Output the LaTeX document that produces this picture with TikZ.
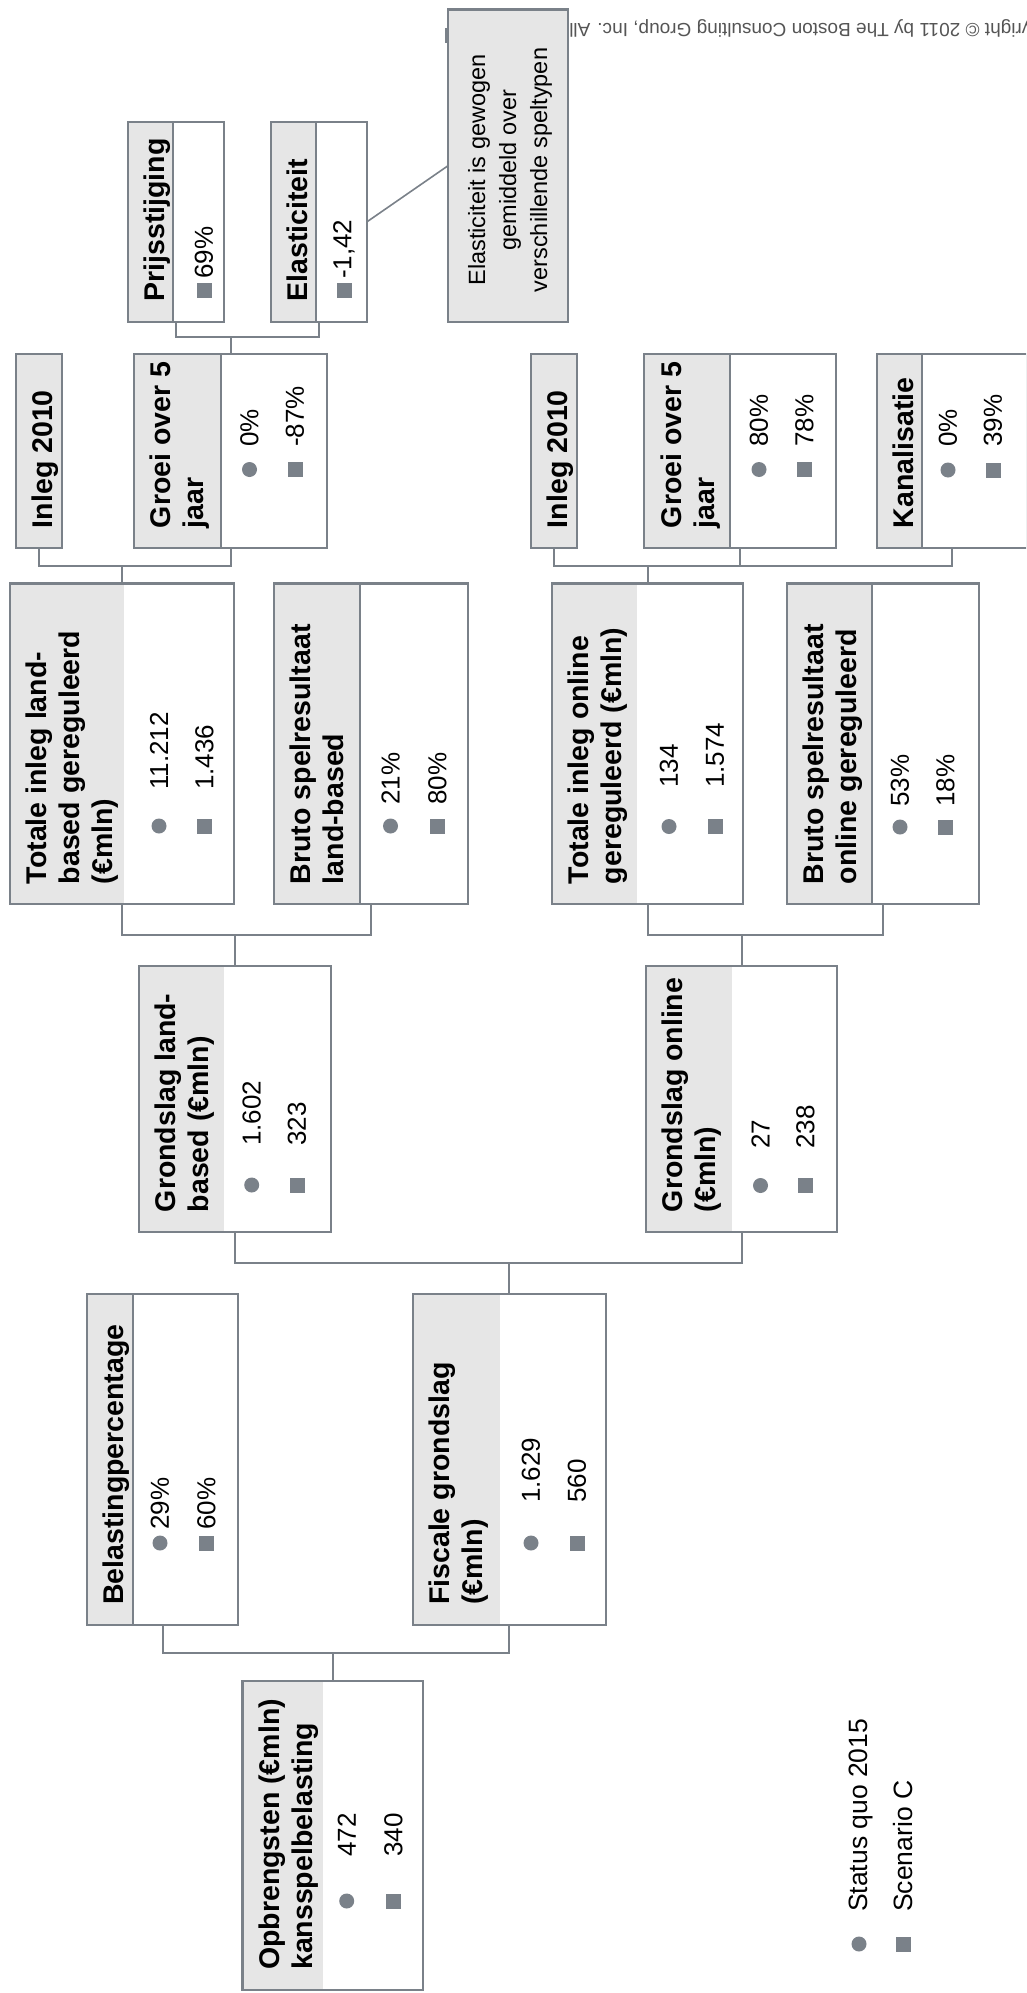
\documentclass[tikz,border=0pt]{standalone}
\usepackage{fontspec}
\setmainfont{Liberation Sans}
\definecolor{bord}{HTML}{7A8189}
\definecolor{hdrgray}{HTML}{E6E6E6}
\definecolor{bulc}{HTML}{7A8189}
\definecolor{copyc}{HTML}{555555}
\newcommand\mybox[7]{%
  \fill[hdrgray] (#2,#3) rectangle (#6,#5);
  \node[bx, minimum width={#4-#2}, minimum height={#5-#3}] (#1) at ({(#2+#4)/2},{(#3+#5)/2}) {};
  \ifnum#7=1 \draw[ln] (#6,#3) -- (#6,#5);\fi
}
\newcommand\myhdr[4]{\node[hdr] (#1-h) at ({#2+16},{#3-20}) {#4};}
\newcommand\myvals[7]{%
  \fill[bul] (#2,#4) circle (7.5pt);
  \fill[bul] ({#3-7.5},{#4-7.5}) rectangle ({#3+7.5},{#4+7.5});
  \node[val] (#1-v1) at (#2,#5) {#6};
  \node[val] (#1-v2) at (#3,#5) {#7};
}
\begin{document}
\begin{tikzpicture}[x=1pt,y=-1pt,
  bx/.style={draw=bord, line width=2.2pt, rectangle, inner sep=0pt, outer sep=0pt},
  ln/.style={draw=bord, line width=2pt},
  hdr/.style={rotate=90, anchor=north west, align=left, inner sep=0pt, font=\bfseries\fontsize{28.5}{33}\selectfont},
  val/.style={rotate=90, anchor=west, inner sep=0pt, font=\fontsize{26}{30}\selectfont},
  bul/.style={fill=bulc}]
\useasboundingbox (0,0) rectangle (1026,1993);
\clip (0,0) rectangle (1026,1993);
\fill[white] (0,0) rectangle (1026,1993);

% boxes
\mybox{prijs}{127.7}{122.3}{224.3}{321.7}{173.3}{1}
\mybox{elast}{270.7}{122.3}{366.7}{321.7}{316}{1}
\mybox{callout}{448}{9.5}{567.7}{322}{567.7}{0}
\mybox{inlegL}{15.7}{354}{62.3}{548.3}{62.3}{0}
\mybox{groeiL}{134}{354}{327}{548.3}{221}{1}
\mybox{totL}{10}{583.5}{234}{904.3}{124}{0}
\mybox{brutoL}{274}{583.5}{468}{904.3}{360}{1}
\mybox{grondL}{139}{966}{331}{1232.3}{224}{0}
\mybox{inlegO}{530.7}{354}{576.7}{548.3}{576.7}{0}
\mybox{groeiO}{644.3}{354}{835.7}{548.3}{730}{1}
\mybox{kanal}{876.7}{354}{1027.3}{548.3}{922}{1}
\mybox{totO}{552}{583.5}{743}{904.3}{636.7}{0}
\mybox{brutoO}{786.7}{583.5}{979}{904.3}{872.3}{1}
\mybox{grondO}{645.7}{966}{837.3}{1232.3}{731.7}{0}
\mybox{belast}{87}{1294}{238}{1625}{133}{1}
\mybox{fiscal}{412.7}{1294}{606}{1625}{500}{0}
\mybox{opbr}{242.5}{1681}{423}{1990}{323}{0}
\fill[bord] (444.5,28) rectangle (448,43);

% connectors
\coordinate (j1) at (groeiL.north |- 0,337);
\draw[ln] (prijs.south) |- (j1) -| (elast.south);
\draw[ln] (j1) -- (groeiL.north);
\coordinate (j2) at (totL.north |- 0,565.7);
\draw[ln] (inlegL.south) |- (j2) -| (groeiL.south);
\draw[ln] (j2) -- (totL.north);
\coordinate (j3) at (grondL.north |- 0,935);
\draw[ln] (totL.south) |- (j3) -| (brutoL.south);
\draw[ln] (j3) -- (grondL.north);
\coordinate (j4) at (totO.north |- 0,565.7);
\draw[ln] (inlegO.south) |- (j4) -| (kanal.south);
\draw[ln] (groeiO.south) -- (groeiO.south |- j4);
\draw[ln] (j4) -- (totO.north);
\coordinate (j5) at (grondO.north |- 0,935);
\draw[ln] (totO.south) |- (j5) -| (brutoO.south);
\draw[ln] (j5) -- (grondO.north);
\coordinate (j6) at (fiscal.north |- 0,1263.3);
\draw[ln] (grondL.south) |- (j6) -| (grondO.south);
\draw[ln] (j6) -- (fiscal.north);
\coordinate (j7) at (opbr.north |- 0,1653);
\draw[ln] (belast.south) |- (j7) -| (fiscal.south);
\draw[ln] (j7) -- (opbr.north);
\draw[ln, line width=1.6pt] (elast.east) -- (callout.west);

% headers
\myhdr{prijs}{127.7}{321.7}{Prijsstijging}
\myhdr{elast}{270.7}{321.7}{Elasticiteit}
\myhdr{inlegL}{15.7}{548.3}{Inleg 2010}
\myhdr{groeiL}{134}{548.3}{Groei over 5\\jaar}
\myhdr{totL}{10}{904.3}{Totale inleg land-\\based gereguleerd\\(€mln)}
\myhdr{brutoL}{274}{904.3}{Bruto spelresultaat\\land-based}
\myhdr{grondL}{139}{1232.3}{Grondslag land-\\based (€mln)}
\myhdr{inlegO}{530.7}{548.3}{Inleg 2010}
\myhdr{groeiO}{644.3}{548.3}{Groei over 5\\jaar}
\myhdr{kanal}{876.7}{548.3}{Kanalisatie}
\myhdr{totO}{552}{904.3}{Totale inleg online\\gereguleerd (€mln)}
\myhdr{brutoO}{786.7}{904.3}{Bruto spelresultaat\\online gereguleerd}
\myhdr{grondO}{645.7}{1232.3}{Grondslag online\\(€mln)}
\myhdr{belast}{87}{1625}{Belastingpercentage}
\myhdr{fiscal}{412.7}{1625}{Fiscale grondslag\\(€mln)}
\myhdr{opbr}{242.5}{1990}{Opbrengsten (€mln)\\kansspelbelasting}

% values
\fill[bul] ({204-7.5},{290-7.5}) rectangle ({204+7.5},{290+7.5});
\node[val] (prijs-v) at (204,279) {69\%};
\fill[bul] ({344-7.5},{290-7.5}) rectangle ({344+7.5},{290+7.5});
\node[val] (elast-v) at (344,279) {-1,42};
\myvals{groeiL}{249.5}{295}{469.5}{447}{0\%}{-87\%}
\myvals{totL}{159}{204.5}{826}{790}{11.212}{1.436}
\myvals{brutoL}{390.5}{437.5}{826}{805}{21\%}{80\%}
\myvals{grondL}{251.7}{297}{1185}{1146}{1.602}{323}
\myvals{groeiO}{759}{804.5}{469.5}{447}{80\%}{78\%}
\myvals{kanal}{948}{993}{470}{447}{0\%}{39\%}
\myvals{totO}{669}{715}{826.5}{788}{134}{1.574}
\myvals{brutoO}{900}{945.5}{827}{807}{53\%}{18\%}
\myvals{grondO}{760.5}{805.5}{1185.5}{1149}{27}{238}
\myvals{belast}{160}{206.5}{1543}{1530}{29\%}{60\%}
\myvals{fiscal}{531}{577}{1543}{1503}{1.629}{560}
\myvals{opbr}{346.7}{393.5}{1901}{1857}{472}{340}

% callout text
\node[rotate=90, anchor=north, align=center, inner sep=0pt, font=\fontsize{23.5}{31}\selectfont] (callout-t) at (468,170) {Elasticiteit is gewogen\\gemiddeld over\\verschillende speltypen};

% legend
\fill[bul] (859,1944) circle (7.5pt);
\node[val, font=\fontsize{26.5}{30}\selectfont] (leg1) at (861,1912) {Status quo 2015};
\fill[bul] ({903-7.5},{1944-7.5}) rectangle ({903+7.5},{1944+7.5});
\node[val, font=\fontsize{26.5}{30}\selectfont] (leg2) at (903,1912) {Scenario C};

% copyright (upside down, cut at edge)
\node[rotate=180, anchor=base east, inner sep=0pt, text=copyc, font=\fontsize{19}{22}\selectfont] (copy) at (569,24) {Copyright © 2011 by The Boston Consulting Group, Inc. All};
\end{tikzpicture}
\end{document}
